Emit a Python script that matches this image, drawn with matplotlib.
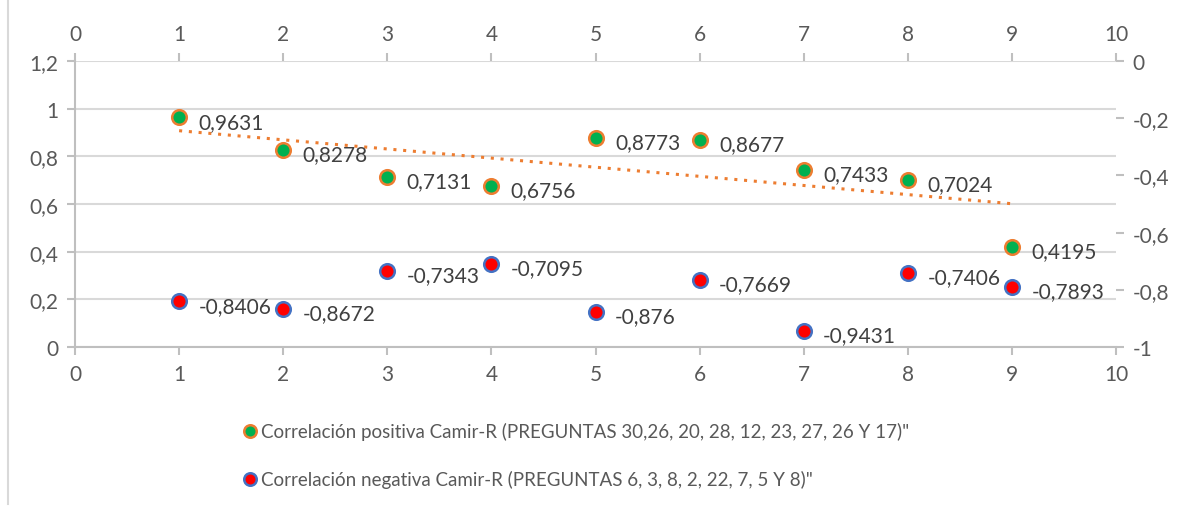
import matplotlib.pyplot as plt
import numpy as np
from matplotlib.ticker import FuncFormatter, MultipleLocator
from matplotlib.lines import Line2D

plt.rcParams['font.family'] = ['Lato', 'DejaVu Sans']

# data
preguntas = [1, 2, 3, 4, 5, 6, 7, 8, 9]
positivos = [0.9631, 0.8278, 0.7131, 0.6756, 0.8773, 0.8677, 0.7433, 0.7024, 0.4195]
negativos = [-0.8406, -0.8672, -0.7343, -0.7095, -0.876, -0.7669, -0.9431, -0.7406, -0.7893]
label_pos = "Correlación positiva Camir-R (PREGUNTAS 30,26, 20, 28, 12, 23, 27, 26 Y 17)\""
label_neg = "Correlación negativa Camir-R (PREGUNTAS 6, 3, 8, 2, 22, 7, 5 Y 8)\""

text_col = '#595959'
axis_col = '#BFBFBF'
grid_col = '#D9D9D9'


def coma(v, pos):
    s = ('%.1f' % v).rstrip('0').rstrip('.')
    if s == '-0':
        s = '0'
    return s.replace('.', ',')


def etiqueta(v):
    return ('%g' % v).replace('.', ',')


fig = plt.figure(figsize=(11.83, 5.10), dpi=100)
rect = [0.0634, 0.3176, 0.88, 0.5608]
ax = fig.add_axes(rect)
ax2 = fig.add_axes(rect, frameon=False)

# primary axes (positive)
ax.set_xlim(0, 10)
ax.set_ylim(0, 1.2)
ax.xaxis.set_major_locator(MultipleLocator(1))
ax.yaxis.set_major_locator(MultipleLocator(0.2))
ax.yaxis.set_major_formatter(FuncFormatter(coma))
ax.grid(axis='y', color=grid_col, linewidth=1.5)
ax.set_axisbelow(True)
for s in ax.spines.values():
    s.set_color(axis_col)
    s.set_linewidth(1.5)
ax.spines['right'].set_visible(False)
ax.spines['top'].set_visible(False)
ax.tick_params(colors=axis_col, labelcolor=text_col, labelsize=15, length=6, width=1.5, direction='out', pad=6)

# trend line
coef = np.polyfit(preguntas, positivos, 1)
xt = np.array([preguntas[0], preguntas[-1]])
ax.plot(xt, np.polyval(coef, xt), linestyle=(0, (1, 2.2)), color='#ED7D31', linewidth=2.2, zorder=2)

ax.scatter(preguntas, positivos, s=110, color='#00B050', edgecolors='#ED7D31', linewidths=1.8, zorder=3)
for x, y in zip(preguntas, positivos):
    ax.annotate(etiqueta(y), (x, y), xytext=(14, -3), textcoords='offset points',
                va='center', ha='left', fontsize=15, color='#404040')

# secondary axes (negative): top x and right y
ax2.set_xlim(0, 10)
ax2.set_ylim(-1, 0)
ax2.xaxis.set_major_locator(MultipleLocator(1))
ax2.yaxis.set_major_locator(MultipleLocator(0.2))
ax2.yaxis.set_major_formatter(FuncFormatter(coma))
ax2.xaxis.tick_top()
ax2.yaxis.tick_right()
ax2.spines['top'].set_visible(True)
ax2.spines['right'].set_visible(True)
for k in ['top', 'right']:
    ax2.spines[k].set_color(axis_col)
    ax2.spines[k].set_linewidth(1.5)
ax2.tick_params(colors=axis_col, labelcolor=text_col, labelsize=15, length=6, width=1.5, direction='out', pad=6)

ax2.scatter(preguntas, negativos, s=110, color='#FF0000', edgecolors='#4472C4', linewidths=1.8, zorder=3)
for x, y in zip(preguntas, negativos):
    ax2.annotate(etiqueta(y), (x, y), xytext=(14, -3), textcoords='offset points',
                 va='center', ha='left', fontsize=15, color='#404040')

# legend
h1 = Line2D([], [], marker='o', linestyle='none', markersize=9, markerfacecolor='#00B050',
            markeredgecolor='#ED7D31', markeredgewidth=1.8)
h2 = Line2D([], [], marker='o', linestyle='none', markersize=9, markerfacecolor='#FF0000',
            markeredgecolor='#4472C4', markeredgewidth=1.8)
leg = fig.legend([h1, h2], [label_pos, label_neg], loc='upper left', bbox_to_anchor=(0.197, 0.185),
                 frameon=False, fontsize=13.5, labelspacing=1.6, handletextpad=0.1, handlelength=1.0,
                 borderaxespad=0)
for t in leg.get_texts():
    t.set_color(text_col)

# chart area left border
fig.add_artist(Line2D([0.007, 0.007], [0.01, 1.0], color='#D9D9D9', linewidth=1.5))

fig.savefig('out.png', dpi=100)
